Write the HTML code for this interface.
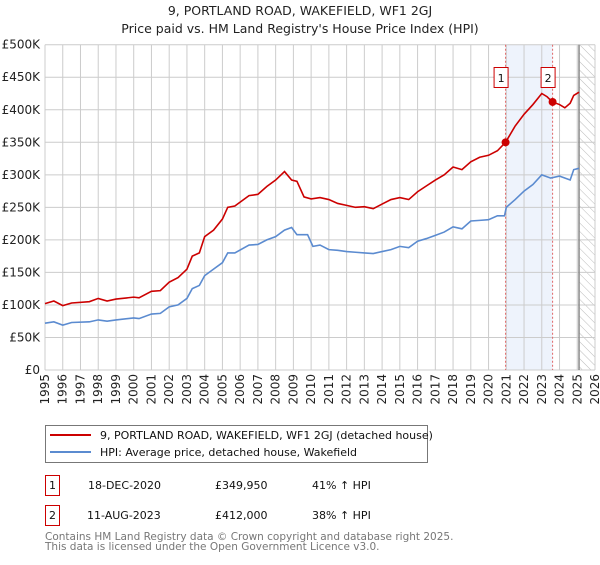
<!DOCTYPE html>
<html><head><meta charset="utf-8"><style>
body{margin:0;background:#fff;font-family:"Liberation Sans","DejaVu Sans",sans-serif;}
svg text{font-family:"DejaVu Sans","Liberation Sans",sans-serif;}
</style></head><body>
<svg width="600" height="560" xmlns="http://www.w3.org/2000/svg" id="chart">
<defs><pattern id="hatch" width="6" height="6" patternUnits="userSpaceOnUse" patternTransform="rotate(-45)"><line x1="0" y1="0" x2="0" y2="6" stroke="#bbb" stroke-width="1"/></pattern></defs>
<text x="300" y="15" text-anchor="middle" font-size="12.5" fill="#222">9, PORTLAND ROAD, WAKEFIELD, WF1 2GJ</text>
<text x="300" y="33" text-anchor="middle" font-size="12.5" fill="#222">Price paid vs. HM Land Registry's House Price Index (HPI)</text>
<g id="grid"></g><g id="marks"></g>
<g>
<rect x="45.5" y="425.5" width="382" height="37" fill="#fff" stroke="#777"/>
<line x1="50" y1="435" x2="91" y2="435" stroke="#cc0000" stroke-width="2"/>
<text x="100" y="439" font-size="11" fill="#111">9, PORTLAND ROAD, WAKEFIELD, WF1 2GJ (detached house)</text>
<line x1="50" y1="452" x2="91" y2="452" stroke="#5b8bd0" stroke-width="2"/>
<text x="100" y="456" font-size="11" fill="#111">HPI: Average price, detached house, Wakefield</text>
</g>
<g font-size="11" fill="#111">
<rect x="45.5" y="475.5" width="14" height="20" fill="#fff" stroke="#cc0000"/><text x="52.5" y="489" text-anchor="middle">1</text>
<text x="88" y="489">18-DEC-2020</text><text x="215" y="489">£349,950</text><text x="312" y="489">41% ↑ HPI</text>
<rect x="45.5" y="505.5" width="14" height="20" fill="#fff" stroke="#cc0000"/><text x="52.5" y="519" text-anchor="middle">2</text>
<text x="87" y="519">11-AUG-2023</text><text x="215" y="519">£412,000</text><text x="312" y="519">38% ↑ HPI</text>
</g>
<text x="45" y="540" font-size="10.5" fill="#777">Contains HM Land Registry data © Crown copyright and database right 2025.</text>
<text x="45" y="550" font-size="10.5" fill="#777">This data is licensed under the Open Government Licence v3.0.</text>
</svg>
<script>
const hpiDates=[1995,1995.5,1996,1996.5,1997.5,1998,1998.5,1999,2000,2000.3,2001,2001.5,2002,2002.5,2003,2003.3,2003.7,2004,2004.5,2005,2005.3,2005.7,2006.5,2007,2007.5,2008,2008.5,2008.9,2009.2,2009.8,2010.1,2010.5,2011,2011.5,2012,2012.5,2013,2013.5,2014,2014.5,2015,2015.5,2016,2016.5,2017,2017.5,2018,2018.5,2019,2019.5,2020,2020.5,2020.9,2021,2021.5,2022,2022.5,2023,2023.5,2024,2024.6,2024.8,2025.1];
const hpiValues=[72,74,69,73,74,77,75,77,80,79,86,87,97,100,110,125,130,145,155,165,180,180,192,193,200,205,215,219,208,208,190,192,185,184,182,181,180,179,182,185,190,188,198,202,207,212,220,217,229,230,231,237,237,250,262,275,285,300,295,298,292,308,310];
const priceDates=[1995,1995.5,1996,1996.5,1997.5,1998,1998.5,1999,2000,2000.3,2001,2001.5,2002,2002.5,2003,2003.3,2003.7,2004,2004.5,2005,2005.3,2005.7,2006.5,2007,2007.5,2008,2008.5,2008.9,2009.2,2009.6,2010,2010.5,2011,2011.5,2012,2012.5,2013,2013.5,2014,2014.5,2015,2015.5,2016,2016.5,2017,2017.5,2018,2018.5,2019,2019.5,2020,2020.5,2020.96,2021.5,2022,2022.5,2023,2023.3,2023.6,2024,2024.3,2024.6,2024.8,2025.1];
const priceValues=[102,106,99,103,105,110,106,109,112,111,121,122,135,142,155,175,180,205,215,232,250,252,268,270,282,292,305,292,290,266,263,265,262,256,253,250,251,248,255,262,265,262,274,283,292,300,312,308,320,327,330,337,349.95,375,393,408,425,420,412,408,403,410,422,427];
const saleDates=[2020.96,2023.61];
const saleValues=[349.95,412];
const saleLabels=["1","2"];
const yTicks=[0,50,100,150,200,250,300,350,400,450,500];
const yTickLabels=["£0","£50K","£100K","£150K","£200K","£250K","£300K","£350K","£400K","£450K","£500K"];
const xYears=[1995,1996,1997,1998,1999,2000,2001,2002,2003,2004,2005,2006,2007,2008,2009,2010,2011,2012,2013,2014,2015,2016,2017,2018,2019,2020,2021,2022,2023,2024,2025,2026];
const X0=45,X1=595,Y0=370,Y1=44.7;
const xS=d=>X0+(d-1995)/(2026-1995)*(X1-X0);
const yS=v=>Y0-v/500*(Y0-Y1);
const NS="http://www.w3.org/2000/svg";
function mk(p,tag,a){const e=document.createElementNS(NS,tag);for(const k in a)e.setAttribute(k,a[k]);p.appendChild(e);return e;}
const grid=document.getElementById('grid'),marks=document.getElementById('marks');
// shaded/hatched
let sh=mk(grid,'rect',{x:xS(saleDates[0]),y:Y1,width:xS(saleDates[1])-xS(saleDates[0]),height:Y0-Y1,fill:'#eef3fc'});


let ht=mk(grid,'rect',{x:xS(2025.1),y:Y1,width:X1-xS(2025.1),height:Y0-Y1,fill:'url(#hatch)'});


yTicks.forEach((t,i)=>{
 let l=mk(grid,'line',{x1:X0,x2:X1,y1:yS(t),y2:yS(t),stroke:'#ccc'});
 
 
 let tx=mk(grid,'text',{x:40,y:yS(t)+4,'text-anchor':'end','font-size':'12',fill:'#222'});tx.textContent=yTickLabels[i];
 
 
});
xYears.forEach(yr=>{
 let l=mk(grid,'line',{x1:xS(yr),x2:xS(yr),y1:Y1,y2:Y0,stroke:'#ccc'});
 
 
 let tx=mk(grid,'text',{x:0,y:0,'text-anchor':'end','font-size':'12',fill:'#222',transform:`translate(${xS(yr)+4},374) rotate(-90)`});tx.textContent=yr;
 
 
});
let ve=mk(grid,'line',{x1:xS(2025.1),x2:xS(2025.1),y1:Y1,y2:Y0,stroke:'#888','stroke-width':1.5});


saleDates.forEach((d,i)=>{
 let l=mk(grid,'line',{x1:xS(d),x2:xS(d),y1:Y1,y2:Y0,stroke:'#e06666','stroke-dasharray':'2,2'});
 
 
});
function line(ds,vs,col,name){
 let p=mk(marks,'polyline',{points:ds.map((d,i)=>xS(d)+','+yS(vs[i])).join(' '),fill:'none',stroke:col,'stroke-width':1.6});
 
 
}
line(hpiDates,hpiValues,'#5b8bd0','hpi-line');
line(priceDates,priceValues,'#cc0000','price-line');
saleDates.forEach((d,i)=>{
 let c=mk(marks,'circle',{cx:xS(d),cy:yS(saleValues[i]),r:4,fill:'#cc0000'});
 
 
 let r=mk(marks,'rect',{x:xS(d)-11.5,y:67.5,width:14,height:20,fill:'#fff',stroke:'#cc0000'});
 
 
 let t=mk(marks,'text',{x:xS(d)-4.5,y:82,'text-anchor':'middle','font-size':'11',fill:'#111'});t.textContent=saleLabels[i];
 
 
});
</script>
</body></html>
